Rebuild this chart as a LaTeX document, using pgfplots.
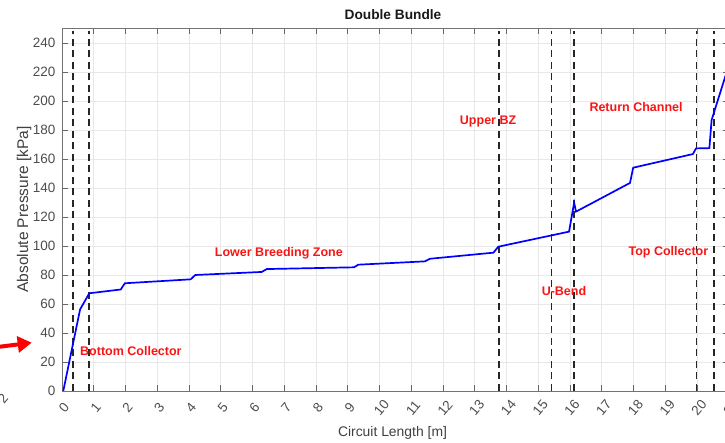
\documentclass[border=0pt]{standalone}
\usepackage{pgfplots}
\pgfplotsset{compat=1.18}
\usetikzlibrary{arrows.meta}
\usepackage{fontspec}
\setmainfont{Liberation Sans}
\definecolor{tickgray}{RGB}{77,77,77}
\definecolor{gridgray}{RGB}{232,232,232}
\definecolor{annred}{RGB}{250,20,20}
\begin{document}
\begin{tikzpicture}[x=1pt,y=1pt]
\begin{axis}[
 scale only axis, width=666.75pt, height=362.5pt,
 at={(62pt,52pt)}, anchor=south west,
 xmin=0, xmax=21, ymin=0, ymax=250,
 xtick={0,1,...,21}, ytick={0,20,...,240},
 grid=major, major grid style={gridgray, line width=0.6pt},
 tick align=inside, major tick length=6pt,
 axis line style={black!55, line width=0.8pt},
 tick style={black!60, line width=0.8pt},
 /pgf/number format/assume math mode=true,
 yticklabel style={font=\fontsize{13.5}{13.5}\selectfont, text=tickgray, anchor=east, xshift=-3pt},
 xticklabel style={font=\fontsize{13.5}{13.5}\selectfont, text=tickgray, anchor=center, xshift=2pt, yshift=-17pt, rotate=50},
]
\addplot[black!85, line width=1.5pt, dash pattern=on 7pt off 4.5pt] coordinates {(0.35,0) (0.35,248)};
\addplot[black!85, line width=1.5pt, dash pattern=on 7pt off 4.5pt] coordinates {(0.85,0) (0.85,248)};
\addplot[black!85, line width=1.5pt, dash pattern=on 7pt off 4.5pt] coordinates {(13.76,0) (13.76,248)};
\addplot[black!85, line width=1.5pt, dash pattern=on 7pt off 4.5pt] coordinates {(15.42,0) (15.42,248)};
\addplot[black!85, line width=1.5pt, dash pattern=on 7pt off 4.5pt] coordinates {(16.13,0) (16.13,248)};
\addplot[black!85, line width=1.5pt, dash pattern=on 7pt off 4.5pt] coordinates {(19.98,0) (19.98,248)};
\addplot[black!85, line width=1.5pt, dash pattern=on 7pt off 4.5pt] coordinates {(20.54,0) (20.54,248)};
\addplot[blue, line width=1.7pt] coordinates {
(0.04,0) (0.57,56.3) (0.86,67.4) (1.85,70) (1.98,74.3) (4.05,77) (4.2,80)
(6.29,82.1) (6.45,84.1) (9.2,85.3) (9.33,87.1) (11.43,89.4) (11.59,91.2)
(13.59,95.4) (13.74,99.5) (15.97,109.9) (16.13,129.9) (16.19,123.7)
(17.89,143.5) (17.99,154) (19.87,163.4) (19.97,167.3) (20.39,167.5)
(20.46,186.9) (20.74,206.4) (20.95,221)
};
\begin{scope}[every node/.style={text=annred, font=\bfseries\fontsize{12.5}{12.5}\selectfont}]
\node at (axis cs:2.17,27.6) {Bottom Collector};
\node at (axis cs:6.83,95) {Lower Breeding Zone};
\node at (axis cs:13.42,185.7) {Upper BZ};
\node at (axis cs:18.08,196) {Return Channel};
\node at (axis cs:15.81,69) {U-Bend};
\node at (axis cs:19.1,95.4) {Top Collector};
\end{scope}
\end{axis}
\node[font=\bfseries\fontsize{13.7}{13.7}\selectfont, text=black!90] at (393pt,428pt) {Double Bundle};
\node[font=\fontsize{13.9}{13.9}\selectfont, text=black!75] at (392.5pt,10pt) {Circuit Length [m]};
\node[font=\fontsize{15.5}{15.5}\selectfont, text=black!75, rotate=90] at (24pt,233.5pt) {Absolute Pressure [kPa]};
\node[font=\fontsize{13.5}{13.5}\selectfont, text=tickgray, rotate=50] at (3pt,44pt) {2};
\draw[red, line width=4pt, -{Triangle[length=14pt,width=16pt]}] (0pt,96.3pt) -- (31.7pt,100.3pt);
\pgfresetboundingbox
\useasboundingbox (0,0) rectangle (725pt,443pt);
\end{tikzpicture}
\end{document}
